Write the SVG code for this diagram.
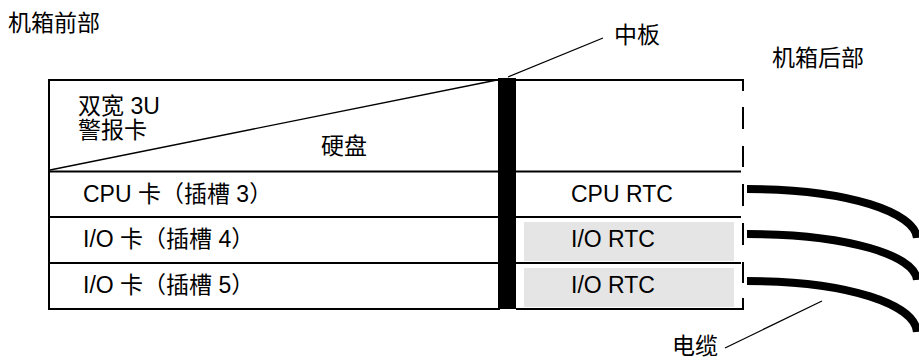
<svg xmlns="http://www.w3.org/2000/svg" width="919" height="361" viewBox="0 0 919 361">
<style>
text{font-family:"Liberation Sans","Noto Sans CJK SC",sans-serif;font-size:23px;fill:#000}
.ln{stroke:#000;stroke-width:2;fill:none}
.thin{stroke:#000;stroke-width:1.3;fill:none}
.cable{stroke:#000;stroke-width:8;fill:none}
.gray{fill:#e5e5e5}
</style>
<rect width="919" height="361" fill="#fff"/>
<g id="labels">
<text x="8" y="31">机箱前部</text>
<text x="614" y="43">中板</text>
<text x="772" y="66">机箱后部</text>
<text x="672" y="354">电缆</text>
</g>
<g id="front">
<rect class="ln" x="49" y="80" width="450" height="229"/>
<line class="ln" x1="49" y1="171.5" x2="499" y2="171.5"/>
<line class="ln" x1="49" y1="217" x2="499" y2="217"/>
<line class="ln" x1="49" y1="263" x2="499" y2="263"/>
<line class="thin" x1="50" y1="170" x2="502" y2="79"/>
<text x="78" y="114">双宽 3U</text>
<text x="78" y="138">警报卡</text>
<text x="321" y="154">硬盘</text>
<text x="83" y="202">CPU 卡（插槽 3）</text>
<text x="83" y="247">I/O 卡（插槽 4）</text>
<text x="83" y="293">I/O 卡（插槽 5）</text>
</g>
<g id="midplane">
<rect x="498" y="78" width="18" height="231" fill="#000"/>
</g>
<g id="rear">
<rect class="gray" x="524" y="222" width="210" height="39"/>
<rect class="gray" x="524" y="268" width="210" height="39"/>
<path class="ln" d="M516,80H742M516,171.5H741M516,217H741M516,263H741M516,309H742"/>
<path class="ln" d="M743,79V91M743,107V129M743,146V167M743,184V206M743,223V245M743,262V283M743,298V310"/>
<text x="571" y="202">CPU RTC</text>
<text x="571" y="247">I/O RTC</text>
<text x="571" y="293">I/O RTC</text>
</g>
<g id="connectors">
<line class="thin" x1="725" y1="348" x2="822" y2="301"/>
<line class="thin" x1="508" y1="77" x2="603" y2="38"/>
<path class="cable" d="M747,189C850,189 915,213 917,238"/>
<path class="cable" d="M747,234C850,234 915,256 917,280"/>
<path class="cable" d="M747,281C850,281 915,305 917,332"/>
</g>
</svg>
